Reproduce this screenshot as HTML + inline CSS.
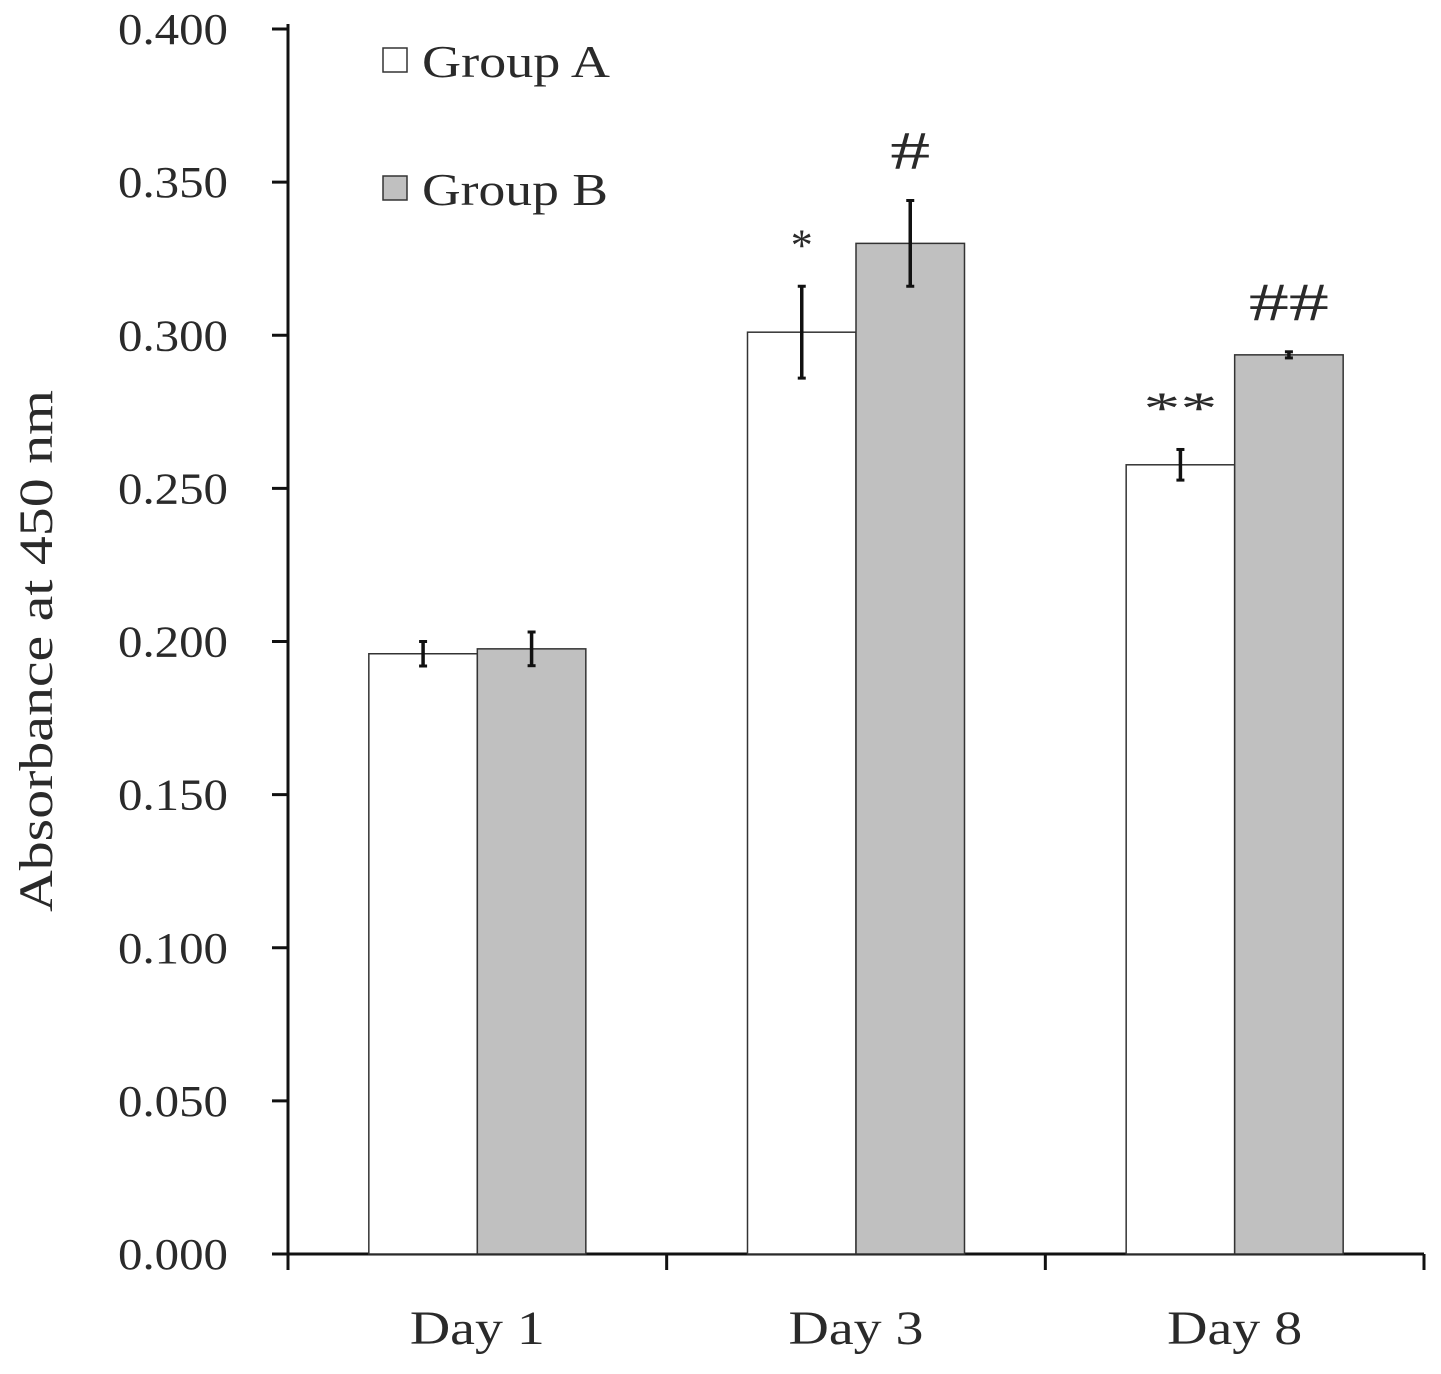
<!DOCTYPE html>
<html><head><meta charset="utf-8"><style>
body{margin:0;background:#fff}
svg text{font-family:"Liberation Serif",serif;fill:#2a2a2a}
</style></head><body>
<svg id="chart" width="1441" height="1369" xmlns="http://www.w3.org/2000/svg">
<g id="axes"></g><g id="bars"></g>
<text x="52" y="651" font-size="48" text-anchor="middle" textLength="522" lengthAdjust="spacingAndGlyphs" transform="rotate(-90 52 651)">Absorbance at 450 nm</text>
<rect x="383" y="48" width="24" height="24" fill="#fff" stroke="#333" stroke-width="1.5"/>
<text x="422" y="77" font-size="46" textLength="188" lengthAdjust="spacingAndGlyphs">Group A</text>
<rect x="383" y="176" width="24" height="24" fill="#c0c0c0" stroke="#333" stroke-width="1.5"/>
<text x="422" y="205" font-size="46" textLength="186" lengthAdjust="spacingAndGlyphs">Group B</text>
</svg>
<script>
const categories=["Day 1","Day 3","Day 8"];
const groupA=[0.196,0.301,0.2577];
const groupB=[0.1976,0.330,0.2936];
const errA=[0.004,0.015,0.005];
const errB=[0.0055,0.014,0.001];
const marksA=["","*","**"];
const marksB=["","#","##"];
const yTicks=[0,0.05,0.1,0.15,0.2,0.25,0.3,0.35,0.4];
const NS="http://www.w3.org/2000/svg";
const x0=288,xEnd=1424,y0=1254,yTop=29;
const yS=v=>y0-(v/0.4)*(y0-yTop);
const cw=(xEnd-x0)/categories.length;
function mk(t,a,p){const e=document.createElementNS(NS,t);for(const k in a)e.setAttribute(k,a[k]);p.appendChild(e);return e;}
const ax=document.getElementById('axes'),bg=document.getElementById('bars');
const yl=mk('line',{x1:x0,y1:yTop-5,x2:x0,y2:y0,stroke:'#111','stroke-width':3},ax);


const xl=mk('line',{x1:x0,y1:y0,x2:xEnd,y2:y0,stroke:'#111','stroke-width':3},ax);


yTicks.forEach(v=>{const y=yS(v);
mk('line',{x1:x0-16,y1:y,x2:x0,y2:y,stroke:'#111','stroke-width':3},ax);
const t=mk('text',{x:228,y:y+15,'font-size':44,'text-anchor':'end',textLength:110,lengthAdjust:'spacingAndGlyphs'},ax);t.textContent=v.toFixed(3);

});
for(let i=0;i<=categories.length;i++)mk('line',{x1:x0+i*cw,y1:y0,x2:x0+i*cw,y2:y0+16,stroke:'#111','stroke-width':3},ax);
const bw=108.5;
categories.forEach((c,i)=>{const cx=x0+cw*(i+0.5);
const t=mk('text',{x:cx-135/2,y:1344,'font-size':48,textLength:135,lengthAdjust:'spacingAndGlyphs'},ax);t.textContent=c;


[[groupA,errA,marksA,'#fff',-1,'a'],[groupB,errB,marksB,'#c0c0c0',0,'b']].forEach(([d,e,m,f,o,n])=>{
const bx=cx+(o===-1?-bw:0);
const r=mk('rect',{x:bx,y:yS(d[i]),width:bw,height:y0-yS(d[i]),fill:f,stroke:'#333','stroke-width':1.5},bg);


const ex=bx+bw/2;
mk('line',{x1:ex,y1:yS(d[i]+e[i]),x2:ex,y2:yS(d[i]-e[i]),stroke:'#111','stroke-width':3.5},bg);
mk('line',{x1:ex-4,y1:yS(d[i]+e[i]),x2:ex+4,y2:yS(d[i]+e[i]),stroke:'#111','stroke-width':3},bg);
mk('line',{x1:ex-4,y1:yS(d[i]-e[i]),x2:ex+4,y2:yS(d[i]-e[i]),stroke:'#111','stroke-width':3},bg);
if(m[i]){const star=m[i][0]==='*';
const w=m[i].length===2?(star?74:80):(star?22:40);
const s=mk('text',{x:ex-w/2,y:yS(d[i]+e[i])-(star?26:32),'font-size':star?46:54,textLength:w,lengthAdjust:'spacingAndGlyphs'},bg);s.textContent=m[i];

}
});});
</script>
</body></html>
